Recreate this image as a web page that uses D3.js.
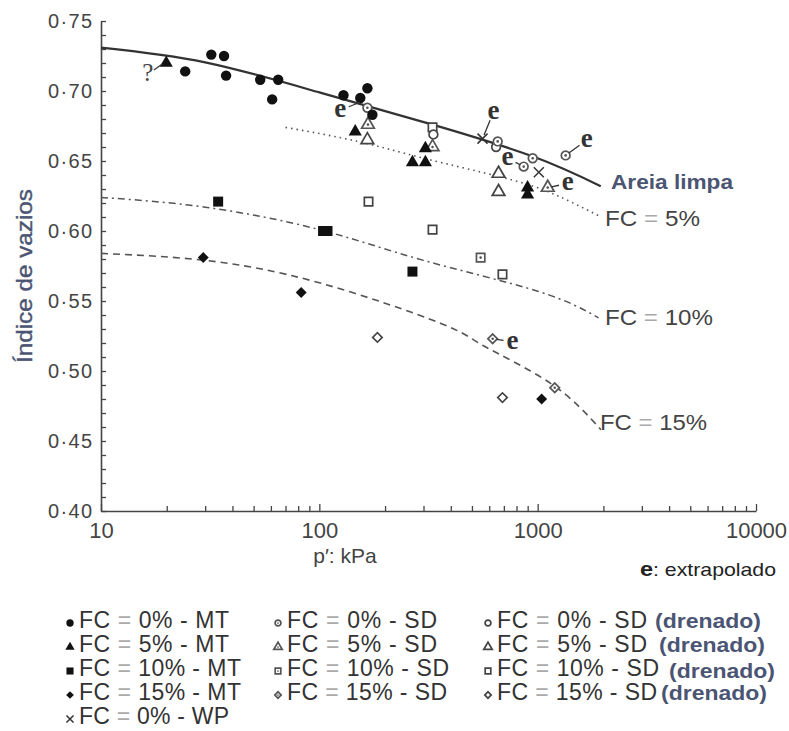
<!DOCTYPE html>
<html><head><meta charset="utf-8">
<script src="https://cdn.jsdelivr.net/npm/d3@7"></script>
<style>
html,body{margin:0;padding:0;background:#fff;}
svg{display:block;font-family:"Liberation Sans",Arial,sans-serif;}
</style></head>
<body><svg id="c" width="789" height="731"></svg>
<script>
// ---------- data ----------
const xTickValues = [10,20,30,40,50,60,70,80,90,100,200,300,400,500,600,700,800,900,1000,2000,3000,4000,5000,6000,7000,8000,9000,10000];
const xTickLabels = ["10","100","1000","10000"];
const yTickLabels = ["0·40","0·45","0·50","0·55","0·60","0·65","0·70","0·75"];

const fc0MT  = [[24.3,0.714],[32,0.726],[36.6,0.725],[37.4,0.711],[53.6,0.708],[64.8,0.708],[60.8,0.694],[129,0.697],[154,0.695],[166,0.702],[175,0.683]];
const fc5MT  = [[19.9,0.720],[146,0.671],[306,0.659],[267,0.649],[306,0.649],[899,0.631],[899,0.626]];
const fc10MT = [[34.4,0.621],[104,0.600],[109,0.600],[267,0.571]];
const fc15MT = [[29.4,0.581],[82.6,0.556],[1043,0.480]];
const fc0SD  = [[166,0.688],[656,0.664],[863,0.646],[949,0.652],[1343,0.654]];
const fc5SD  = [[167,0.676],[330,0.660],[1112,0.631]];
const fc10SD = [[548,0.581]];
const fc15SD = [[622,0.523],[1197,0.488]];
const fc0SDd = [[333,0.669],[645,0.660]];
const fc5SDd = [[166,0.665],[662,0.641],[662,0.628]];
const fc10SDd= [[168,0.621],[330,0.674],[330,0.601],[690,0.569]];
const fc15SDd= [[184.5,0.524],[690,0.481]];
const fc0WP  = [[559,0.666],[1012,0.642]];

const curveClean = [[10,0.731],[30,0.7205],[100,0.699],[330,0.676],[960,0.653],[1945,0.632]];
const curve5  = [[70,0.674],[150,0.664],[300,0.652],[700,0.638],[1200,0.626],[1950,0.610]];
const curve10 = [[10,0.624],[30,0.617],[100,0.601],[300,0.579],[1000,0.557],[1900,0.538]];
const curve15 = [[10,0.584],[30,0.579],[100,0.563],[360,0.534],[565,0.518],[1150,0.491],[1950,0.458]];

const curveNames = ["Areia limpa","FC = 5%","FC = 10%","FC = 15%"];
// extrapolated-value annotations: [label p, label e, target p, target e]
const eNotes = [[124.8,0.6864,160,0.693],[628,0.685,559,0.666],[728,0.652,863,0.646],[1374,0.634,1112,0.631],[1679,0.665,1343,0.654],[767,0.521,622,0.523]];
const qNote = [16.4,0.7136,19.9,0.720];

const legendLabels = [
 ["FC = 0% - MT","FC = 5% - MT","FC = 10% - MT","FC = 15% - MT","FC = 0% - WP"],
 ["FC = 0% - SD","FC = 5% - SD","FC = 10% - SD","FC = 15% - SD"],
 ["FC = 0% - SD","FC = 5% - SD","FC = 10% - SD","FC = 15% - SD"]
];
const drenadoLabel = "(drenado)";

// ---------- layout ----------
const svg = d3.select("#c");
const x = d3.scaleLog().domain([10,10000]).range([101,756]);
const y = d3.scaleLinear().domain([0.40,0.75]).range([511,21]);
const blueTxt = "#4b5573";

// axes
const yTicks = d3.range(40,76).map(v=>v/100);
const gy = svg.append("g").attr("transform","translate(101,0)")
 .call(d3.axisLeft(y).tickValues(yTicks).tickSizeOuter(0).tickSizeInner(-5).tickPadding(9)
   .tickFormat(d=>{const k=Math.round(d*100); return k%5===0? yTickLabels[(k-40)/5] : "";}));
gy.select(".domain").attr("stroke","#444").attr("stroke-width",1.6);
gy.selectAll(".tick line").attr("stroke","#444").attr("stroke-width",1.3);
gy.selectAll(".tick text").attr("font-size",20).attr("fill","#444")
  .attr("font-family","Liberation Sans, Arial").each(function(){ if(this.textContent) d3.select(this).attr("textLength",44).attr("lengthAdjust","spacing");});

const gx = svg.append("g").attr("transform","translate(0,511)")
 .call(d3.axisBottom(x).tickValues(xTickValues).tickSizeOuter(0).tickSizeInner(-5).tickPadding(11)
   .tickFormat(d=>{const i=[10,100,1000,10000].indexOf(d); return i>=0? xTickLabels[i] : "";}));
gx.select(".domain").attr("stroke","#444").attr("stroke-width",1.6);
gx.selectAll(".tick line").attr("stroke","#444").attr("stroke-width",1.3)
  .attr("y2",d=>[10,100,1000,10000].includes(d)?-7:-5);
gx.selectAll(".tick text").attr("font-size",22).attr("fill","#444").attr("font-family","Liberation Sans, Arial");

// axis titles
svg.append("text").attr("transform","translate(32,276) rotate(-90)").attr("text-anchor","middle")
  .attr("font-size",22).attr("fill",blueTxt).attr("textLength",174).attr("lengthAdjust","spacingAndGlyphs")
  .attr("stroke",blueTxt).attr("stroke-width",0.4).text("Índice de vazios");
svg.append("text").attr("x",345).attr("y",563).attr("text-anchor","middle").attr("font-size",21).attr("fill","#444").text("p′: kPa");
const ex = svg.append("text").attr("x",640).attr("y",576).attr("font-size",19).attr("fill","#222")
  .attr("textLength",136).attr("lengthAdjust","spacingAndGlyphs");
ex.append("tspan").attr("font-weight","bold").attr("font-size",21).text("e");
ex.append("tspan").text(": extrapolado");

// curves
const line = d3.line().x(d=>x(d[0])).y(d=>y(d[1])).curve(d3.curveNatural);
const curveStyles = [
  {data:curveClean, stroke:"#333", w:2.2, dash:null},
  {data:curve5, stroke:"#555", w:1.6, dash:"1.5,4"},
  {data:curve10, stroke:"#555", w:1.5, dash:"7,4,2,4"},
  {data:curve15, stroke:"#555", w:1.6, dash:"7,5"}
];
curveStyles.forEach(c=>{
  svg.append("path").attr("d",line(c.data)).attr("fill","none").attr("stroke",c.stroke)
    .attr("stroke-width",c.w).attr("stroke-dasharray",c.dash);
});
// curve labels
function eqText(sel, parts, eqColor){
  sel.append("tspan").text(parts[0]);
  sel.append("tspan").attr("fill",eqColor).text("=");
  sel.append("tspan").text(parts[1]);
}
svg.append("text").attr("x",611).attr("y",189).attr("font-size",21).attr("font-weight","bold")
  .attr("fill",blueTxt).attr("textLength",122).attr("lengthAdjust","spacingAndGlyphs").text(curveNames[0]);
const labelPos = [[605,226,95],[605,325,108],[600,430,107]];
[1,2,3].forEach((k,i)=>{
  const p = labelPos[i];
  const t = svg.append("text").attr("x",p[0]).attr("y",p[1]).attr("font-size",22).attr("fill","#444")
   .attr("textLength",p[2]).attr("lengthAdjust","spacingAndGlyphs");
  const s = curveNames[k].split("=");
  eqText(t,[s[0],s[1]],"#aaa");
});

// markers
const sym = (type,size)=>d3.symbol().type(type).size(size)();
function drawPts(data, kind, shape){
  const g = svg.append("g");
  data.forEach(d=>{
    const gg = g.append("g").attr("transform",`translate(${x(d[0])},${y(d[1])})`);
    drawMarker(gg, kind, shape, 1);
  });
}
function drawMarker(gg, kind, shape, sc){
  let type = shape==="circle"?d3.symbolCircle: shape==="triangle"?d3.symbolTriangle: d3.symbolSquare;
  let rot = shape==="diamond"?45:0;
  if(kind==="MT"){
    const size = {circle:85,triangle:75,square:100,diamond:60}[shape]*sc;
    gg.append("path").attr("d",sym(type,size)).attr("transform",`rotate(${rot})`).attr("fill","#111");
  } else if(kind==="WP"){
    const r=5*Math.sqrt(sc);
    gg.append("path").attr("d",`M${-r},${-r}L${r},${r}M${-r},${r}L${r},${-r}`).attr("stroke","#333").attr("stroke-width",1.5);
  } else {
    const size = {circle:60,triangle:70,square:70,diamond:45}[shape]*sc;
    gg.append("path").attr("d",sym(type,size)).attr("transform",`rotate(${rot})`)
      .attr("fill","#fff").attr("stroke",kind==="SD"?"#555":"#444").attr("stroke-width",1.7);
    if(kind==="SD") gg.append("circle").attr("r",1.3*Math.sqrt(sc)).attr("fill","#555");
  }
}
drawPts(fc10SDd,"D","square"); drawPts(fc0SDd,"D","circle"); drawPts(fc5SDd,"D","triangle"); drawPts(fc15SDd,"D","diamond");
drawPts(fc0SD,"SD","circle"); drawPts(fc5SD,"SD","triangle"); drawPts(fc10SD,"SD","square"); drawPts(fc15SD,"SD","diamond");
drawPts(fc0MT,"MT","circle"); drawPts(fc5MT,"MT","triangle"); drawPts(fc10MT,"MT","square"); drawPts(fc15MT,"MT","diamond");
drawPts(fc0WP,"WP","cross");

// e annotations
eNotes.forEach(n=>{
  const tx=x(n[0]), ty=y(n[1]), px=x(n[2]), py=y(n[3]);
  const dx=px-tx, dy=py-ty, L=Math.hypot(dx,dy);
  svg.append("line").attr("x1",tx+dx/L*9).attr("y1",ty+dy/L*9).attr("x2",px-dx/L*4).attr("y2",py-dy/L*4)
    .attr("stroke","#333").attr("stroke-width",1.3);
  svg.append("text").attr("x",tx).attr("y",ty+7).attr("text-anchor","middle").attr("font-family","Liberation Serif, serif")
    .attr("font-weight","bold").attr("font-size",27).attr("fill","#333").text("e");
});
{
  const tx=x(qNote[0]), ty=y(qNote[1]), px=x(qNote[2]), py=y(qNote[3]);
  svg.append("line").attr("x1",tx+6).attr("y1",ty-2).attr("x2",px-4).attr("y2",py+1).attr("stroke","#333").attr("stroke-width",1.2);
  svg.append("text").attr("x",tx).attr("y",ty+9).attr("text-anchor","middle").attr("font-family","Liberation Serif, serif")
    .attr("font-size",25).attr("fill","#444").text("?");
}

// legend
const shapes = ["circle","triangle","square","diamond","cross"];
const kinds = ["MT","SD","D"];
const colX = [70,278,488];
const rowY = [619,643,667,691,715];
const txtLen = [[150,150,162,162,150],[150,150,162,160],[150,150,162,160]];
const drenX = [655,659,669,661], drenDy=[0,0,2,0];
legendLabels.forEach((col,ci)=>{
  col.forEach((lab,ri)=>{
    const mx=colX[ci], my=rowY[ri];
    const gg = svg.append("g").attr("transform",`translate(${mx},${my+4})`);
    drawMarker(gg, ri===4?"WP":kinds[ci], shapes[ri], ci===0?0.5:0.45);
    const t = svg.append("text").attr("x",mx+9).attr("y",my+9).attr("font-size",23).attr("fill","#333")
      .attr("textLength",txtLen[ci][ri]).attr("lengthAdjust","spacing");
    const s = lab.split("=");
    eqText(t,[s[0],s[1]],"#aaa");
    if(ci===2){
      svg.append("text").attr("x",drenX[ri]).attr("y",my+9+drenDy[ri]).attr("font-size",21).attr("font-weight","bold")
        .attr("fill",blueTxt).attr("textLength",106).attr("lengthAdjust","spacingAndGlyphs").text(drenadoLabel);
    }
  });
});
</script></body></html>
